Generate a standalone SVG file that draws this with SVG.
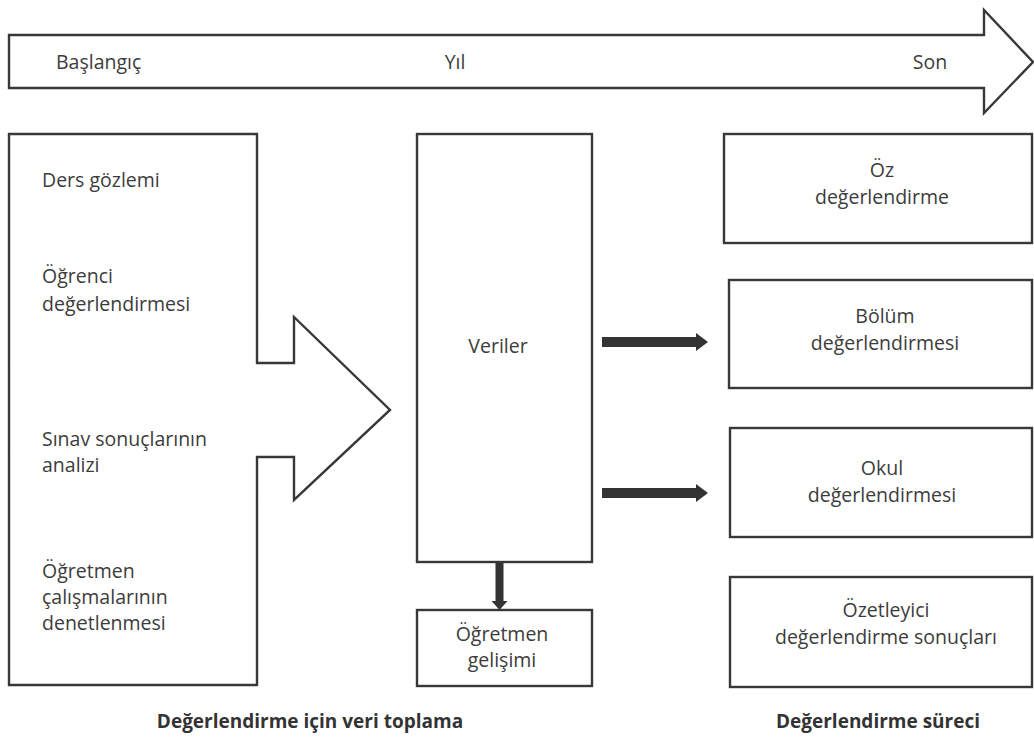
<svg xmlns="http://www.w3.org/2000/svg" width="1034" height="738" viewBox="0 0 1034 738">
  <style>
    .shape { fill: #ffffff; stroke: #383838; stroke-width: 2.4; stroke-linejoin: miter; }
    .solid { fill: #333333; stroke: none; }
    .txt { font-family: "Open Sans", "Noto Sans", "Liberation Sans", sans-serif; font-size: 19.5px; fill: #3c3c3c; }
    .mid { text-anchor: middle; }
    .cap { font-family: "Open Sans", "Noto Sans", "Liberation Sans", sans-serif; font-size: 19px; font-weight: bold; fill: #333333; text-anchor: middle; }
  </style>
  <rect width="1034" height="738" fill="#ffffff"/>

  <!-- timeline arrow across the top -->
  <g id="timeline">
    <path class="shape" d="M9,35 H984 V10 L1033,62 L984,113 V88 H9 Z"/>
    <text class="txt" x="56" y="69">Başlangıç</text>
    <text class="txt mid" x="455" y="69">Yıl</text>
    <text class="txt mid" x="930" y="69">Son</text>
  </g>

  <!-- data sources, drawn as a block arrow pointing to the data box -->
  <g id="sources">
    <path class="shape" d="M9,134 H257 V363 H294 V317 L390,410 L294,500 V457 H257 V685 H9 Z"/>
    <text class="txt" x="42" y="187">Ders gözlemi</text>
    <text class="txt" x="42" y="283">Öğrenci</text>
    <text class="txt" x="42" y="311">değerlendirmesi</text>
    <text class="txt" x="42" y="446">Sınav sonuçlarının</text>
    <text class="txt" x="42" y="472">analizi</text>
    <text class="txt" x="42" y="578">Öğretmen</text>
    <text class="txt" x="42" y="604">çalışmalarının</text>
    <text class="txt" x="42" y="630">denetlenmesi</text>
  </g>

  <g id="veriler">
    <rect class="shape" x="417" y="134" width="175" height="428"/>
    <text class="txt mid" x="498" y="353">Veriler</text>
  </g>

  <g id="ogretmen-gelisimi">
    <rect class="shape" x="417" y="610" width="175" height="76"/>
    <text class="txt mid" x="502" y="641">Öğretmen</text>
    <text class="txt mid" x="502" y="667">gelişimi</text>
  </g>

  <g id="oz-degerlendirme">
    <rect class="shape" x="724" y="134" width="308" height="109"/>
    <text class="txt mid" x="882" y="177">Öz</text>
    <text class="txt mid" x="882" y="204">değerlendirme</text>
  </g>

  <g id="bolum-degerlendirmesi">
    <rect class="shape" x="729" y="280" width="303" height="108"/>
    <text class="txt mid" x="885" y="323">Bölüm</text>
    <text class="txt mid" x="885" y="350">değerlendirmesi</text>
  </g>

  <g id="okul-degerlendirmesi">
    <rect class="shape" x="730" y="428" width="302" height="109"/>
    <text class="txt mid" x="882" y="475">Okul</text>
    <text class="txt mid" x="882" y="502">değerlendirmesi</text>
  </g>

  <g id="ozetleyici">
    <rect class="shape" x="730" y="577" width="302" height="110"/>
    <text class="txt mid" x="886" y="617">Özetleyici</text>
    <text class="txt mid" x="886" y="644">değerlendirme sonuçları</text>
  </g>

  <!-- connectors: solid block arrows -->
  <g id="connectors">
    <path class="solid" d="M602,337 H696 V333 L708,342 L696,351 V347 H602 Z"/>
    <path class="solid" d="M602,488 H696 V484 L708,493 L696,502 V498 H602 Z"/>
    <path class="solid" d="M495.5,563 H503.5 V601 H507.5 L499.5,610 L491.5,601 H495.5 Z"/>
  </g>

  <!-- section captions -->
  <g id="captions">
    <text class="cap" x="310" y="728">Değerlendirme için veri toplama</text>
    <text class="cap" x="878" y="728">Değerlendirme süreci</text>
  </g>
</svg>
